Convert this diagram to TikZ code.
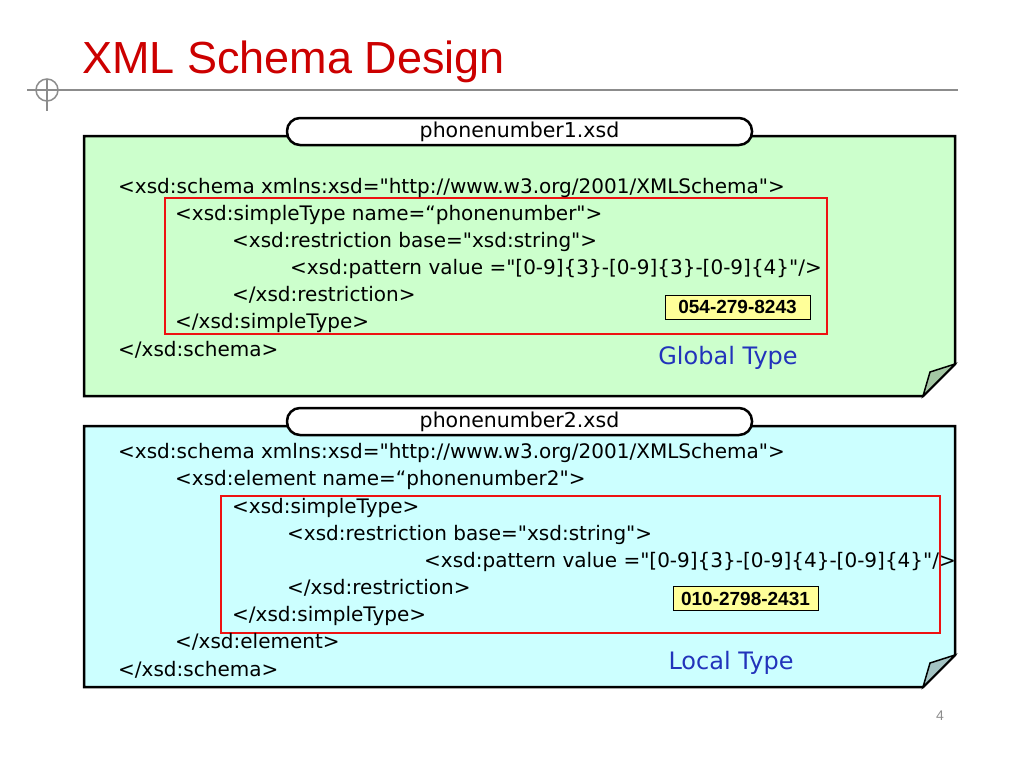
\documentclass[tikz,border=0pt]{standalone}
\usepackage{fontspec}
\setmainfont{DejaVu Sans}
\newfontfamily\codefont{DejaVu Sans}
\newfontfamily\arialfont{Liberation Sans}
\definecolor{titlered}{HTML}{CC0000}
\definecolor{markred}{HTML}{EE1111}
\definecolor{notegreen}{HTML}{CCFFCC}
\definecolor{notecyan}{HTML}{CCFFFF}
\definecolor{foldgreen}{HTML}{A3C7A3}
\definecolor{foldcyan}{HTML}{A3C3C3}
\definecolor{hintblue}{HTML}{2233BB}
\definecolor{rulegray}{HTML}{8C8C8C}
\definecolor{labelyellow}{HTML}{FFFF99}
\tikzset{
  code/.style={anchor=base west, inner sep=0pt, font=\codefont\fontsize{20}{22}\selectfont},
  tabbox/.style={draw, line width=2.5pt, fill=white, rounded corners=13pt,
    minimum width=465pt, minimum height=27pt, inner sep=0pt,
    font=\codefont\fontsize{20.5}{22}\selectfont},
  note/.style={draw, line width=2.5pt},
  hilite/.style={draw=markred, line width=2.2pt},
  sample/.style={draw, line width=1pt, fill=labelyellow, inner sep=0pt,
    minimum width=145pt, minimum height=24pt, font=\arialfont\bfseries\fontsize{19}{20}\selectfont},
  hint/.style={text=hintblue, font=\codefont\fontsize{24}{26}\selectfont}
}
\begin{document}
\begin{tikzpicture}[x=1pt, y=-1pt]
  \useasboundingbox (0,0) rectangle (1024,768);
  % title and rule
  \node[anchor=base west, inner sep=0pt, text=titlered, font=\arialfont\fontsize{45}{50}\selectfont] (title) at (82,73) {XML Schema Design};
  \draw[rulegray, line width=1.5pt] (27,90) -- (958,90);
  \draw[rulegray, line width=1.5pt] (47,80) -- (47,111);
  \draw[rulegray, line width=1.5pt] (47,90) circle (11);

  % first file
  \draw[note, fill=notegreen] (84,136) -- (955,136) -- (955,364) -- (923,396) -- (84,396) -- cycle;
  \draw[line width=1.5pt, fill=foldgreen] (923,396) -- (930,372) -- (955,364) -- cycle;
  \node[tabbox] (tab1) at (519.5,131.5) {phonenumber1.xsd};
  \draw[hilite] (165,198) rectangle (827,334);
  \node[code] (g1) at (118,193) {<xsd:schema xmlns:xsd="http://www.w3.org/2001/XMLSchema">};
  \node[code] (g2) at (175,220) {<xsd:simpleType name=“phonenumber">};
  \node[code] (g3) at (232,247) {<xsd:restriction base="xsd:string">};
  \node[code] (g4) at (290,274) {<xsd:pattern value ="[0-9]\{3\}-[0-9]\{3\}-[0-9]\{4\}"/>};
  \node[code] (g5) at (232,301) {</xsd:restriction>};
  \node[code] (g6) at (175,328) {</xsd:simpleType>};
  \node[code] (g7) at (118,356) {</xsd:schema>};
  \node[sample] (num1) at (737.5,307) {054-279-8243};
  \node[hint] (global) at (728,358) {Global Type};

  % second file
  \draw[note, fill=notecyan] (84,426) -- (955,426) -- (955,655) -- (923,687) -- (84,687) -- cycle;
  \draw[line width=1.5pt, fill=foldcyan] (923,687) -- (930,663) -- (955,655) -- cycle;
  \node[tabbox] (tab2) at (519.5,421.5) {phonenumber2.xsd};
  \draw[hilite] (221,496) rectangle (940,633);
  \node[code] (l1) at (118,458) {<xsd:schema xmlns:xsd="http://www.w3.org/2001/XMLSchema">};
  \node[code] (l2) at (175,485) {<xsd:element name=“phonenumber2">};
  \node[code] (l3) at (232,513) {<xsd:simpleType>};
  \node[code] (l4) at (287,540) {<xsd:restriction base="xsd:string">};
  \node[code] (l5) at (424,567) {<xsd:pattern value ="[0-9]\{3\}-[0-9]\{4\}-[0-9]\{4\}"/>};
  \node[code] (l6) at (287,594) {</xsd:restriction>};
  \node[code] (l7) at (232,621) {</xsd:simpleType>};
  \node[code] (l8) at (175,648) {</xsd:element>};
  \node[code] (l9) at (118,676) {</xsd:schema>};
  \node[sample] (num2) at (745.5,598.5) {010-2798-2431};
  \node[hint] (local) at (731,663) {Local Type};

  \node[text=rulegray, font=\arialfont\fontsize{14}{16}\selectfont] (page) at (940,716) {4};
\end{tikzpicture}
\end{document}
